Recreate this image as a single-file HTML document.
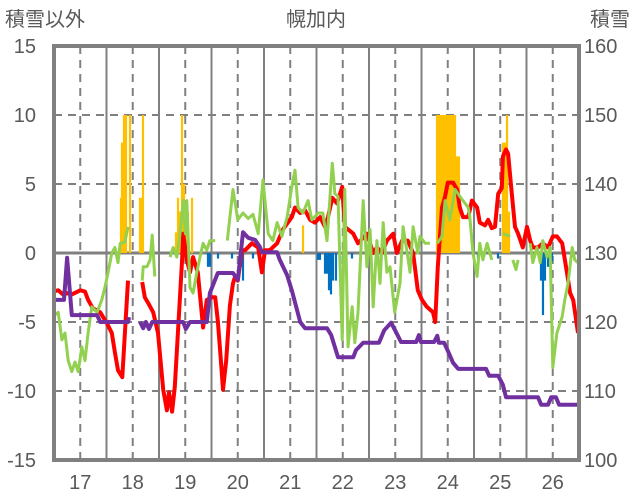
<!DOCTYPE html>
<html><head><meta charset="utf-8"><style>
html,body{margin:0;padding:0;background:#fff;}
svg{display:block;font-family:"Liberation Sans","Noto Sans CJK JP",sans-serif;}
</style></head><body>
<svg id="chart" width="636" height="501" viewBox="0 0 636 501">
<text x="5" y="26" font-size="20" fill="#595959">積雪以外</text>
<text x="316" y="26" font-size="20" fill="#595959" text-anchor="middle">幌加内</text>
<text x="630" y="26" font-size="20" fill="#595959" text-anchor="end">積雪</text>
<g id="grid"></g>
<g id="bars" clip-path="url(#pc)"></g>
<g id="lines" clip-path="url(#pc)"></g>
<g id="axes"></g>
<defs><clipPath id="pc"><rect x="54" y="46" width="525" height="414"/></clipPath></defs>
</svg>
<script>
const leftTicks=[15,10,5,0,-5,-10,-15];
const rightTicks=[160,150,140,130,120,110,100];
const dayLabels=[17,18,19,20,21,22,23,24,25,26];
const yellowDays=[17.776,17.795,17.833,17.871,17.948,18.138,18.176,18.195,18.824,18.862,18.90,18.938,18.976,19.014,19.052,19.129,21.243,23.795,23.833,23.871,23.91,23.948,23.986,24.024,24.062,24.10,24.138,24.176,24.214,25.052,25.09,25.129,25.167];
const yellowVals=[4,8,10,10,10,4,4,10,1.5,4,3,10,5,2,3,4,2,10,10,10,10,10,10,10,10,10,10,7,7,8,8,10,3];
const blueDays=[19.433,19.471,19.624,19.89,20.06,20.10,20.29,21.529,21.567,21.662,21.70,21.738,21.776,21.814,21.871,22.005,22.176,24.576,24.957,25.776,25.814,25.852,25.91,25.986];
const blueVals=[-1,-1,-0.4,-0.4,-1,-2,-0.4,-0.5,-0.5,-1.5,-1.5,-2.7,-3,-2,-2,-1.4,-0.4,-0.4,-0.4,-2,-4.5,-2,-1,-0.6];
const redDays=[16.48,16.58,16.67,16.75,16.84,17.00,17.09,17.15,17.24,17.38,17.51,17.60,17.66,17.72,17.80,17.85,17.91,null,18.18,18.23,18.29,18.39,18.48,18.58,18.65,18.69,18.75,18.80,18.86,18.94,18.96,19.03,19.09,19.15,19.24,19.34,19.41,19.51,19.57,19.62,19.68,19.72,19.78,19.85,19.91,19.95,20.00,20.08,20.14,20.27,20.39,20.46,20.52,20.61,20.75,20.86,21.03,21.09,21.19,21.28,21.38,21.47,21.57,21.66,21.72,21.80,21.89,21.99,22.04,22.20,22.29,22.46,22.58,22.65,22.75,22.84,22.96,23.03,23.13,23.24,23.34,23.43,23.51,23.60,23.72,23.76,23.81,23.89,23.95,24.00,24.10,24.18,24.23,24.29,24.39,24.46,24.56,24.61,24.71,24.77,24.84,24.90,24.96,25.03,25.05,25.11,25.15,25.22,25.28,25.34,25.43,25.51,25.57,25.62,25.72,25.81,25.91,26.00,26.08,26.18,26.27,26.33,26.39,26.48];
const redVals=[-2.8,-2.7,-3.0,-2.9,-3.0,-2.7,-2.8,-3.4,-4.0,-4.3,-5.1,-5.8,-7.2,-8.5,-9.0,-5.8,-2.0,null,-2.1,-3.2,-3.6,-4.3,-5.8,-9.9,-11.4,-10.1,-11.5,-9.7,-5.8,-0.5,1.4,-0.5,-1.4,-0.3,-1.4,-5.4,-3.4,-3.2,-3.2,-4.9,-7.8,-9.9,-7.8,-3.8,-2.2,-1.7,-2.0,0.2,0.2,0.7,0.4,-1.4,0.2,0.2,0.7,1.7,2.6,3.3,2.9,3.1,2.4,2.2,2.6,1.9,2.6,4.0,3.6,4.8,1.9,1.4,0.7,1.4,0.0,0.4,0.0,0.9,1.4,0.0,0.9,0.9,0.0,-2.7,-3.4,-3.9,-4.3,-5.0,-1.0,3.3,4.1,5.1,5.1,4.6,3.3,2.6,2.6,3.8,3.3,2.2,2.0,2.4,1.8,1.9,4.3,4.7,7.0,7.5,7.2,4.3,1.9,1.4,0.4,1.9,0.9,0.4,0.4,0.7,0.4,1.2,1.2,0.7,-1.4,-2.9,-3.4,-5.8];
const greenDays=[16.48,16.58,16.65,16.71,16.77,16.84,16.90,16.96,17.03,17.09,17.15,17.22,17.32,17.41,17.47,17.53,17.60,17.66,17.72,17.76,17.85,17.91,null,18.18,18.20,18.27,18.33,18.37,18.42,null,18.71,18.77,18.84,18.90,18.96,19.00,19.03,19.09,19.15,19.22,19.28,19.34,19.41,19.47,19.57,null,19.80,19.85,19.91,20.00,20.10,20.20,20.29,20.39,20.48,20.58,20.67,20.75,20.84,20.94,21.03,21.09,21.15,21.24,21.34,21.41,21.53,21.62,21.70,21.80,21.85,21.91,21.99,22.04,22.10,22.18,22.23,22.29,22.39,22.46,22.52,22.58,22.65,22.71,22.77,22.84,22.90,22.99,23.09,23.15,23.22,23.28,23.34,23.43,23.47,23.57,23.66,null,23.80,23.89,23.95,24.04,24.14,24.23,24.29,24.39,24.42,24.48,24.56,24.61,24.67,24.75,24.84,null,25.05,25.19,null,25.24,25.30,25.34,null,25.57,25.62,25.70,25.76,25.81,25.89,25.95,26.00,26.08,26.18,26.23,26.29,26.37,26.42,26.48];
const greenVals=[-4.6,-4.3,-6.3,-5.8,-7.8,-8.6,-7.9,-8.6,-6.8,-7.8,-5.8,-3.9,-4.3,-3.4,-2.5,-1.4,0.0,0.4,-0.7,0.7,0.8,1.9,null,-2.0,-1.0,-1.0,-0.5,1.3,-1.7,null,-0.3,0.4,-0.3,1.4,3.8,1.4,3.8,-2.5,-2.9,-1.4,-0.3,0.7,0.2,0.9,0.9,null,0.9,2.6,4.6,2.4,2.9,2.5,2.8,1.4,5.3,1.4,0.9,2.2,1.2,2.6,4.8,6.0,3.3,2.9,3.8,2.4,2.9,2.9,0.9,6.5,4.3,4.1,-6.3,4.6,-6.8,-3.9,-6.5,-4.3,3.8,-1.0,1.7,-3.9,0.9,-2.2,2.2,-1.4,-1.0,-4.3,-2.2,1.9,0.2,-1.4,1.9,0.0,1.2,0.7,0.7,null,0.7,1.2,3.8,2.4,4.6,4.1,3.8,3.3,2.6,0.0,-1.7,0.7,-0.5,0.7,-0.5,null,1.4,1.2,null,-0.5,-1.2,-0.5,null,0.7,-0.7,0.4,-0.7,0.9,-0.3,0.4,-8.3,-5.8,-4.6,-3.4,-2.2,0.4,-0.5,-0.7];
const snowDays=[16.50,16.69,16.75,16.84,17.32,17.38,17.91,17.93,null,18.14,18.20,18.25,18.31,18.37,18.96,19.01,19.09,19.41,19.47,19.62,19.91,20.00,20.10,20.20,20.33,20.42,20.46,20.75,20.80,20.94,21.03,21.19,21.28,21.70,21.78,21.91,22.20,22.25,22.39,22.69,22.79,22.92,23.01,23.11,23.40,23.45,23.49,23.74,23.80,23.83,23.93,24.02,24.10,24.20,24.73,24.79,24.96,25.05,25.11,25.72,25.78,25.91,25.97,26.06,26.12,26.48];
const snowVals=[123.2,123.2,129.3,121.0,121.0,120.0,120.0,120.7,null,120.0,119.1,120.0,119.0,120.0,120.0,119.0,120.0,120.0,124.2,127.1,127.1,126.1,133.0,132.2,131.9,130.9,130.1,130.1,129.0,126.8,124.6,120.0,119.1,119.1,118.1,114.9,114.9,115.9,117.0,117.0,118.8,119.9,118.6,117.1,117.1,118.1,117.1,117.1,118.0,117.0,117.0,115.5,114.1,113.2,113.2,112.2,112.2,110.9,109.1,109.1,108.0,108.0,109.1,109.1,108.0,108.0];

const X0=54,X1=579,Y0=46,Y1=460,D0=16.5,D1=26.5;
const xS=d=>X0+(d-D0)/(D1-D0)*(X1-X0);
const yL=v=>Y1-(v+15)/30*(Y1-Y0);
const yR=v=>Y1-(v-100)/60*(Y1-Y0);
const NS='http://www.w3.org/2000/svg';
function mk(tag,attrs,parent){const e=document.createElementNS(NS,tag);for(const k in attrs)e.setAttribute(k,attrs[k]);parent.appendChild(e);return e;}
const grid=document.getElementById('grid'),axes=document.getElementById('axes'),bars=document.getElementById('bars'),lines=document.getElementById('lines');
const G='#808080';
leftTicks.forEach(v=>{
  if(v===15||v===-15)return;
  const l=mk('line',{x1:X0,x2:X1,y1:yL(v),y2:yL(v),stroke:G,'stroke-width':v===0?3:2,'stroke-dasharray':v===0?'none':'8,6'},grid);
  
  
});
for(let d=17;d<=26;d++){
  const l=mk('line',{x1:xS(d),x2:xS(d),y1:Y0,y2:Y1,stroke:G,'stroke-width':2,'stroke-dasharray':'8,6'},grid);
  
  
  const m=mk('line',{x1:xS(d-0.5),x2:xS(d-0.5),y1:Y0,y2:Y1,stroke:G,'stroke-width':2},grid);
  
  
}
const bw=(X1-X0)/(D1-D0)/24;
yellowDays.forEach((d,i)=>{
  const v=yellowVals[i];
  const r=mk('rect',{x:xS(d)-bw/2,y:yL(v),width:bw,height:yL(0)-yL(v),fill:'#ffc000'},bars);
  
  
});
blueDays.forEach((d,i)=>{
  const v=blueVals[i];
  const r=mk('rect',{x:xS(d)-bw/2,y:yL(0),width:bw,height:yL(v)-yL(0),fill:'#0070c0'},bars);
  
  
});
function path(days,vals,ys){
  let s='',pen=false;
  days.forEach((d,i)=>{
    if(d===null||vals[i]===null){pen=false;return;}
    s+=(pen?'L':'M')+xS(d).toFixed(1)+','+ys(vals[i]).toFixed(1);pen=true;
  });
  return s;
}
const rp=mk('path',{d:path(redDays,redVals,yL),fill:'none',stroke:'#ff0000','stroke-width':4,'stroke-linejoin':'round'},lines);


const gp=mk('path',{d:path(greenDays,greenVals,yL),fill:'none',stroke:'#92d050','stroke-width':3,'stroke-linejoin':'round'},lines);


const pp=mk('path',{d:path(snowDays,snowVals,yR),fill:'none',stroke:'#7030a0','stroke-width':4,'stroke-linejoin':'round'},lines);


const fr=mk('rect',{x:X0,y:Y0,width:X1-X0,height:Y1-Y0,fill:'none',stroke:G,'stroke-width':4},axes);


leftTicks.forEach(v=>{
  const t=mk('text',{x:36,y:yL(v)+7,'font-size':20,fill:'#595959','text-anchor':'end'},axes);
  t.textContent=v;
  
  
});
rightTicks.forEach(v=>{
  const t=mk('text',{x:584,y:yR(v)+7,'font-size':20,fill:'#595959'},axes);
  t.textContent=v;
  
  
});
dayLabels.forEach(d=>{
  const t=mk('text',{x:xS(d),y:489,'font-size':20,fill:'#595959','text-anchor':'middle'},axes);
  t.textContent=d;
  
  
});
</script>
</body></html>
